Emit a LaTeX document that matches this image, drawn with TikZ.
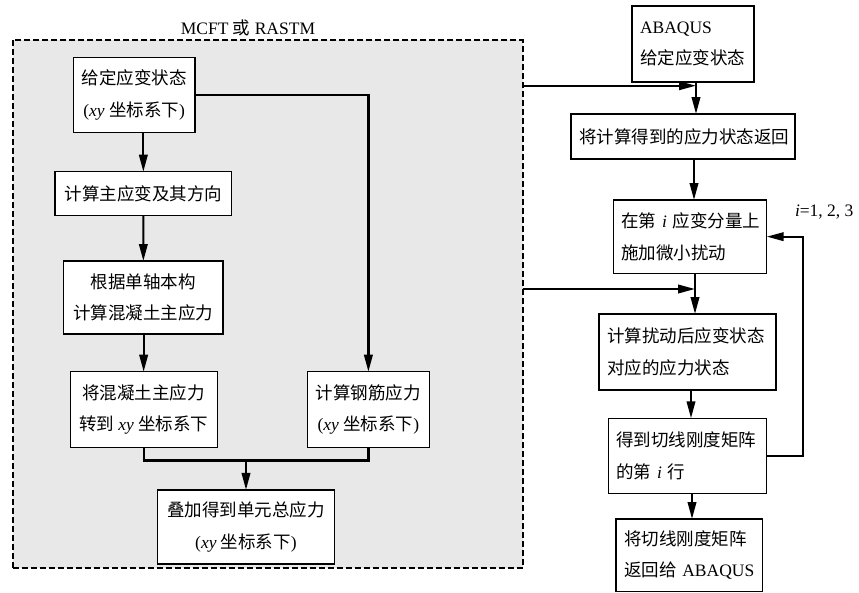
\documentclass[tikz,border=0pt]{standalone}
\usepackage{fontspec}
\setmainfont{Liberation Serif}
\newfontfamily\cjk{Noto Sans CJK SC}
\newcommand\zhtxt[1]{{\cjk #1}}
\usetikzlibrary{arrows.meta,calc}
\definecolor{framefill}{HTML}{E8E8E8}
\begin{document}
\begin{tikzpicture}[x=1pt,y=-1pt,
  every node/.style={inner sep=0pt, outer sep=0pt},
  txt/.style={font=\fontsize{17.5}{31.5}\selectfont},
  boxc/.style={txt, draw=black, line width=1.2pt, fill=white, align=center, anchor=north west},
  boxl/.style={txt, draw=black, line width=1.2pt, fill=white, align=left, anchor=north west, inner xsep=8pt},
  conn/.style={line width=2.2pt, line join=miter},
  arr/.style={conn, -{Triangle[length=17pt,width=8.5pt]}},
  frame/.style={draw=black, fill=framefill, line width=1.6pt, dash pattern=on 6pt off 3pt, anchor=north west}
]
\useasboundingbox (0,0) rectangle (859,592);

% dashed frame and its label
\node[frame, minimum width=510pt, minimum height=527.7pt] (frame) at (12.7,40) {};
\node[txt] (framelab) at (248,27.7) {MCFT \zhtxt{或} RASTM};

% left column
\node[boxc, minimum width=121.7pt, minimum height=75.4pt] (b1) at (73.3,57.3) {\zhtxt{给定应变状态}\\({\itshape xy} \zhtxt{坐标系下})};
\node[boxc, minimum width=176.7pt, minimum height=44pt] (b2) at (55,171.7) {\zhtxt{计算主应变及其方向}};
\node[boxc, minimum width=159.1pt, minimum height=72.9pt] (b3) at (63.8,261) {\zhtxt{根据单轴本构}\\\zhtxt{计算混凝土主应力}};
\node[boxc, minimum width=146.9pt, minimum height=76pt] (b4) at (70.2,371.7) {\zhtxt{将混凝土主应力}\\\zhtxt{转到} {\itshape xy} \zhtxt{坐标系下}};
\node[boxc, minimum width=122.2pt, minimum height=76pt] (b5) at (307.3,371.7) {\zhtxt{计算钢筋应力}\\({\itshape xy} \zhtxt{坐标系下})};
\node[boxc, minimum width=176.6pt, minimum height=74pt] (b6) at (157.7,489.9) {\zhtxt{叠加得到单元总应力}\\({\itshape xy} \zhtxt{坐标系下})};

\draw[arr] (b2.north |- b1.south) -- (b2.north);
\draw[arr] (b2.south) -- (b3.north);
\draw[arr] (b4.north |- b3.south) -- (b4.north);
\draw[arr] (b1.east) -| (b5.north);
\coordinate (m) at (246.5,460.5);
\draw[conn] (b4.south) -- (b4.south |- m) -- (b5.south |- m) -- (b5.south);
\draw[arr] (b6.north |- m) -- (b6.north);

% right column
\node[boxl, text width=106pt, minimum height=76pt] (r1) at (632,6) {\mbox{ABAQUS}\\\mbox{\zhtxt{给定应变状态}}};
\node[boxl, text width=208pt, minimum height=45pt] (r2) at (571,114) {\mbox{\zhtxt{将计算得到的应力状态返回}}};
\node[boxl, text width=137.4pt, minimum height=73.3pt] (r3) at (613.3,200) {\mbox{\zhtxt{在第} {\itshape i} \zhtxt{应变分量上}}\\\mbox{\zhtxt{施加微小扰动}}};
\node[boxl, text width=161pt, minimum height=76pt] (r4) at (599,314) {\mbox{\zhtxt{计算扰动后应变状态}}\\\mbox{\zhtxt{对应的应力状态}}};
\node[boxl, text width=142.4pt, minimum height=75pt] (r5) at (608.3,418.3) {\mbox{\zhtxt{得到切线刚度矩阵}}\\\mbox{\zhtxt{的第} {\itshape i} \zhtxt{行}}};
\node[boxl, text width=130.7pt, minimum height=72.5pt] (r6) at (616,519) {\mbox{\zhtxt{将切线刚度矩阵}}\\\mbox{\zhtxt{返回给} ABAQUS}};

\node[txt, anchor=west] (ilab) at (795,212) {{\itshape i}=1, 2, 3};

\coordinate (j1) at (696,85.7);
\coordinate (j2) at (695,289);
\coordinate (c2) at (694,0);
\coordinate (c4) at (691,0);
\coordinate (c5) at (692,0);
\coordinate (fb) at (803.3,0);

\draw[arr] (j1 |- r1.south) -- (j1 |- r2.north);
\draw[arr] (frame.east |- j1) -- (j1);
\draw[arr] (c2 |- r2.south) -- (c2 |- r3.north);
\draw[arr] (j2 |- r3.south) -- (j2 |- r4.north);
\draw[arr] (frame.east |- j2) -- (j2);
\draw[arr] (c4 |- r4.south) -- (c4 |- r5.north);
\draw[arr] (c5 |- r5.south) -- (c5 |- r6.north);
\draw[arr] (r5.east) -- (r5.east -| fb) -- (fb |- r3.east) -- (r3.east);
\end{tikzpicture}
\end{document}
